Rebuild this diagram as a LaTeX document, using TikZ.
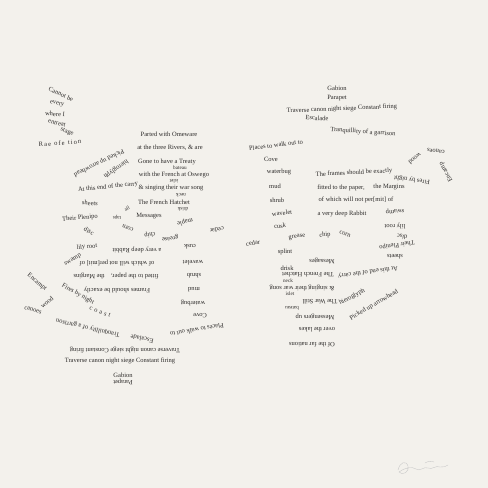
\documentclass[tikz,border=0pt]{standalone}
\usepackage{fontspec}
\setmainfont{Liberation Serif}
\definecolor{paper}{RGB}{243,241,236}
\definecolor{ink}{RGB}{45,43,42}
\newcommand{\wfont}{\fontsize{6.5}{7}\selectfont}
\newcommand{\sfontx}{\fontsize{5.2}{6}\selectfont}
\tikzset{
  w/.style={font=\wfont, inner sep=0pt, text=ink},
  ws/.style={font=\sfontx, inner sep=0pt, text=ink},
  ud/.style={rotate=180},
  sig/.style={draw=gray!45, line width=0.35pt, line cap=round}
}
\begin{document}
\begin{tikzpicture}[x=1pt,y=-1pt]
\fill[paper] (0,0) rectangle (488,488);
\useasboundingbox (0,0) rectangle (488,488);
% ---------- left top column
\node[w,rotate=-25] (a1) at (61,94) {Cannot be};
\node[w,rotate=-12] (a2) at (57,104) {every};
\node[w,rotate=-3] (a3) at (55,114) {where I};
\node[w,rotate=-15] (a4) at (57,123) {entreat};
\node[w,rotate=-20] (a5) at (67,132) {stage};
\node[w,rotate=4] (a6) at (60,143) {R\,a\,e \ o\,f\,e \ t\,i\,o\,n};
\node[w,rotate=206] (a7) at (99,163) {Picked up arrowhead};
\node[w,rotate=215] (a8) at (116,169) {hieroglyph};
% ---------- left block
\node[w] (b1) at (169,134) {Parted with Omeware};
\node[w] (b2) at (170,148) {at the three Rivers, \& are};
\node[w] (b3) at (167,162) {Gone to have a Treaty};
\node[w] (b4) at (174,175) {with the French at Oswego};
\node[w] (b5) at (171,188) {\& singing their war song};
\node[w] (b6) at (164,202) {The French Hatchet};
\node[w] (b7) at (149,216) {Messages};
\node[ws] (b8) at (180,168) {bateau};
\node[ws,ud] (b9) at (174,181) {islet};
\node[ws,ud] (b10) at (181,195) {neck};
\node[ws,ud] (b11) at (183,209) {drisk};
\node[w,rotate=6] (c1) at (108,187) {At this end of the carry};
\node[w,rotate=-5] (c2) at (90,203) {sheets};
\node[w,rotate=5] (c3) at (80,218) {Their Plenipo};
\node[ws,rotate=30] (c4) at (127,209) {all};
\node[ws,ud] (c5) at (117,217) {taps};
\node[w,rotate=-25] (c6) at (89,231) {disc};
\node[w,rotate=160] (c7) at (128,228) {corn};
\node[w,rotate=190] (c8) at (150,235) {chip};
\node[w,rotate=190] (c9) at (170,238) {grease};
\node[w,rotate=195] (c10) at (185,222) {maple};
\node[w,rotate=190] (c11) at (217,230) {cedar};
\node[w,rotate=5] (c12) at (87,247) {lily root};
\node[w,ud] (c13) at (137,250) {a very deep Rabbit};
\node[w,ud] (c14) at (190,247) {cusk};
\node[w,rotate=30] (c15) at (73,260) {swamp};
\node[w,ud] (d1) at (117,263) {of which will not per[mit] of};
\node[w,ud] (d2) at (193,263) {wavelet};
\node[w,ud] (d3) at (116,276) {fitted to the paper,\quad the Margins};
\node[w,ud] (d4) at (194,276) {shrub};
\node[w,ud] (d5) at (117,290) {Frames should be exactly};
\node[w,ud] (d6) at (194,290) {mud};
\node[w,ud] (d7) at (193,303) {waterbug};
\node[w,ud] (d8) at (200,316) {Cove};
\node[w,rotate=190] (d9) at (197,330) {Places to walk out to};
% ---------- left lower
\node[w,rotate=-40] (e1) at (37,282) {Encampt};
\node[w,rotate=40] (e2) at (47,302) {wood};
\node[w,rotate=-30] (e3) at (78,294) {Fires by night};
\node[w,rotate=-15] (e4) at (33,310) {canoes};
\node[w,rotate=-20] (e5) at (100,312) {c\,\,o\,\,a\,\,s\,\,t};
\node[w,rotate=167] (e6) at (88,328) {Tranquillity of a garrison};
\node[w,rotate=168] (e7) at (142,339) {Escalade};
\node[w,ud] (e8) at (125,350) {Traverse canon night siege Constant firing};
\node[w] (e9) at (120,361) {Traverse canon night siege Constant firing};
\node[w] (e10) at (123,375) {Gabion};
\node[w,ud] (e11) at (123,382) {Parapet};
% ---------- right top
\node[w] (f1) at (337,88) {Gabion};
\node[w] (f2) at (337,98) {Parapet};
\node[w,rotate=2.5] (f3) at (342,109) {Traverse canon night siege Constant firing};
\node[w,rotate=-5] (f4) at (317,118) {Escalade};
\node[w,rotate=-4] (f5) at (363,132) {Tranquillity of a garrison};
\node[w,rotate=7] (f6) at (276,145) {Places to walk out to};
\node[w] (f7) at (271,159) {Cove};
\node[w] (f8) at (279,172) {waterbug};
\node[w,rotate=3] (f9) at (354,173) {The frames should be exactly};
\node[w] (f10) at (275,186) {mud};
\node[w] (f11) at (341,188) {fitted to the paper,};
\node[w] (f12) at (389,187) {the Margins};
\node[w] (f13) at (277,200) {shrub};
\node[w] (f14) at (356,200) {of which will not per[mit] of};
\node[w,rotate=5] (f15) at (282,213) {wavelet};
\node[w] (f16) at (342,214) {a very deep Rabbit};
\node[w,rotate=5] (f17) at (280,226) {cusk};
\node[w,rotate=10] (f18) at (297,237) {grease};
\node[w,rotate=5] (f19) at (325,235) {chip};
\node[w,rotate=-20] (f20) at (345,234) {corn};
\node[w,rotate=10] (f21) at (253,243) {cedar};
\node[w] (f22) at (285,252) {splint};
\node[w] (f23) at (287,268) {drisk};
% ---------- right lower block
\node[w,ud] (g1) at (322,261) {Messages};
\node[w,ud] (g2) at (308,275) {The French Hatchet};
\node[ws] (g3) at (288,281) {neck};
\node[w,rotate=188] (g4) at (368,272) {At this end of the carry};
\node[w,ud] (g5) at (302,288) {\& singing their war song};
\node[ws] (g6) at (290,294) {islet};
\node[w,ud] (g7) at (320,302) {The War Still};
\node[ws,ud] (g8) at (292,308) {bateau};
\node[w,rotate=28] (g9) at (352,297) {hieroglyph};
\node[w,rotate=30] (g10) at (374,305) {Picked up arrowhead};
\node[w,ud] (g11) at (315,317) {Messengers up};
\node[w,ud] (g12) at (317,330) {over the lakes};
\node[w,ud] (g13) at (312,345) {Of the far nations};
% ---------- right edge
\node[w,rotate=175] (h1) at (436,151) {canoes};
\node[w,rotate=220] (h2) at (415,159) {wood};
\node[w,rotate=120] (h3) at (446,172) {Encamp};
\node[w,rotate=172] (h4) at (412,180) {Fires by night};
\node[w,rotate=185] (h5) at (395,211) {swamp};
\node[w,rotate=182] (h6) at (395,226) {lily root};
\node[w,rotate=170] (h7) at (402,237) {disc};
\node[w,rotate=188] (h8) at (397,245) {Their Plenipo};
\node[w,ud] (h9) at (395,257) {sheets};
% ---------- signature
\draw[sig] (398,470) .. controls (400,462) and (406,460) .. (408,466)
  .. controls (410,472) and (402,476) .. (399,472)
  .. controls (404,468) and (412,466) .. (416,469)
  .. controls (420,472) and (424,466) .. (428,468)
  .. controls (432,470) and (436,465) .. (440,467)
  .. controls (443,468) and (446,466) .. (448,465);
\draw[sig] (425,463) .. controls (428,461) and (432,461) .. (434,462);
\end{tikzpicture}
\end{document}
